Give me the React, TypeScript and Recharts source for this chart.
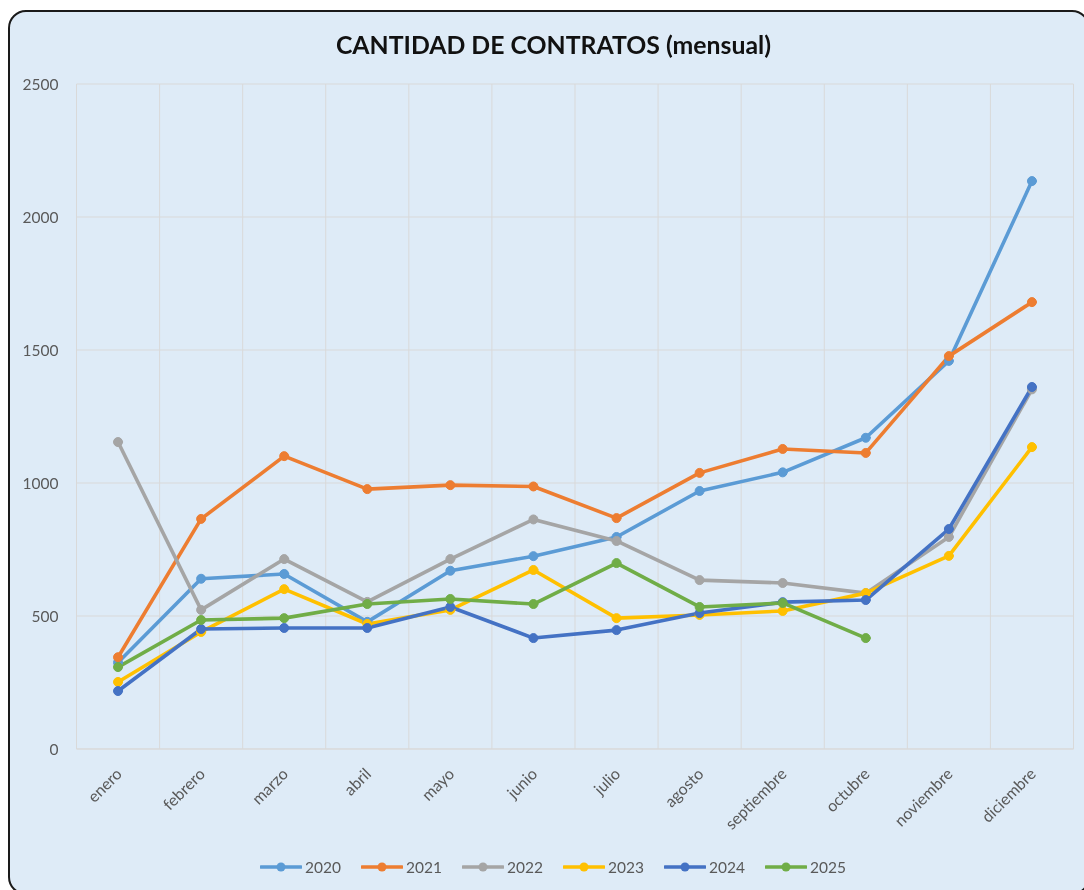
import React from 'react';
import { LineChart, Line, XAxis, YAxis, CartesianGrid, Legend } from 'recharts';

const months = ['enero', 'febrero', 'marzo', 'abril', 'mayo', 'junio', 'julio', 'agosto', 'septiembre', 'octubre', 'noviembre', 'diciembre'];
const years = ['2020', '2021', '2022', '2023', '2024', '2025'];

const v2020 = [325, 640, 658, 478, 670, 725, 797, 970, 1040, 1170, 1459, 2135];
const v2021 = [345, 865, 1101, 977, 992, 987, 868, 1038, 1128, 1113, 1477, 1680];
const v2022 = [1154, 523, 714, 553, 714, 863, 782, 635, 624, 586, 797, 1352];
const v2023 = [252, 440, 601, 470, 523, 673, 492, 504, 519, 586, 726, 1135];
const v2024 = [218, 451, 455, 455, 534, 417, 447, 511, 552, 560, 827, 1361];
const v2025 = [308, 485, 492, 545, 564, 545, 699, 534, 549, 417, null, null];

const seriesValues = [v2020, v2021, v2022, v2023, v2024, v2025];
const seriesColors = ['#5B9BD5', '#ED7D31', '#A5A5A5', '#FFC000', '#4472C4', '#70AD47'];

const yTicks = [0, 500, 1000, 1500, 2000, 2500];
const gridTicks = [0, 1, 2, 3, 4, 5, 6, 7, 8, 9, 10, 11, 12];

const title = 'CANTIDAD DE CONTRATOS (mensual)';

const data = months.map((m, i) => {
  const row: Record<string, any> = { month: m, i };
  years.forEach((y, k) => {
    row[y] = seriesValues[k][i];
  });
  return row;
});

const FONT = 'Lato, "Open Sans", sans-serif';
const TEXT = '#595959';
const GRID = '#D9D9D9';

const MonthTick = (props: any) => {
  const { x, y, payload } = props;
  return (
    <g transform={`translate(${x + 1},${y - 1})`}>
      <text transform="rotate(-45)" textAnchor="end" dy="0.35em" fill={TEXT} fontSize={16} fontFamily={FONT}>
        {payload.value}
      </text>
    </g>
  );
};

const renderLegend = (props: any) => {
  const payload = props.payload || [];
  return (
    <div style={{ display: 'flex', justifyContent: 'center', paddingLeft: 8, height: 30, alignItems: 'center', fontFamily: FONT }}>
      {payload.map((p: any, idx: number) => (
        <div key={idx} style={{ display: 'flex', alignItems: 'center', marginRight: idx === payload.length - 1 ? 0 : 20 }}>
          <svg width={42} height={12} style={{ display: 'block' }}>
            <line x1={1} y1={6} x2={41} y2={6} stroke={p.color} strokeWidth={3.5} strokeLinecap="round" />
            <circle cx={21} cy={6} r={4.5} fill={p.color} />
          </svg>
          <span style={{ fontSize: 15.5, color: TEXT, marginLeft: 3 }}>{p.value}</span>
        </div>
      ))}
    </div>
  );
};

export default function App() {
  return (
    <div
      style={{
        position: 'fixed',
        left: 8,
        top: 10,
        width: 1082,
        height: 885,
        boxSizing: 'border-box',
        border: '2px solid #1a1a1a',
        borderRadius: 18,
        background: '#DEEBF7',
        overflow: 'hidden',
        fontFamily: FONT,
      }}
    >
      <div
        style={{
          position: 'absolute',
          left: 0,
          top: 18,
          width: 1087,
          textAlign: 'center',
          fontSize: 24.8,
          lineHeight: '30px',
          fontWeight: 700,
          color: '#111',
          fontFamily: FONT,
          whiteSpace: 'nowrap',
        }}
      >
        {title}
      </div>
      <LineChart
        width={1078}
        height={881}
        data={data}
        margin={{ top: 72, right: 14.5, bottom: 11, left: 6.5 }}
        style={{ fontFamily: FONT }}
      >
        <CartesianGrid xAxisId="grid" stroke={GRID} strokeWidth={1} />
        <XAxis xAxisId="grid" dataKey="i" type="number" domain={[0, 12]} ticks={gridTicks} hide allowDataOverflow />
        <XAxis
          dataKey="month"
          scale="band"
          interval={0}
          tickLine={false}
          axisLine={{ stroke: GRID }}
          tickSize={0}
          tickMargin={23}
          height={103}
          tick={<MonthTick />}
        />
        <YAxis
          domain={[0, 2500]}
          ticks={yTicks}
          tickLine={false}
          axisLine={false}
          tickSize={0}
          tickMargin={18}
          width={60}
          tick={{ fill: TEXT, fontSize: 15.5, fontFamily: FONT }}
        />
        <Legend verticalAlign="bottom" height={30} wrapperStyle={{ left: 0, width: 1078 }} content={renderLegend} />
        {years.map((y, k) => (
          <Line
            key={y}
            type="linear"
            dataKey={y}
            name={y}
            stroke={seriesColors[k]}
            strokeWidth={3.6}
            strokeLinejoin="round"
            strokeLinecap="round"
            dot={{ r: 4.5, fill: seriesColors[k], stroke: seriesColors[k], strokeWidth: 1 }}
            activeDot={false}
            isAnimationActive={false}
            connectNulls={false}
          />
        ))}
      </LineChart>
    </div>
  );
}
